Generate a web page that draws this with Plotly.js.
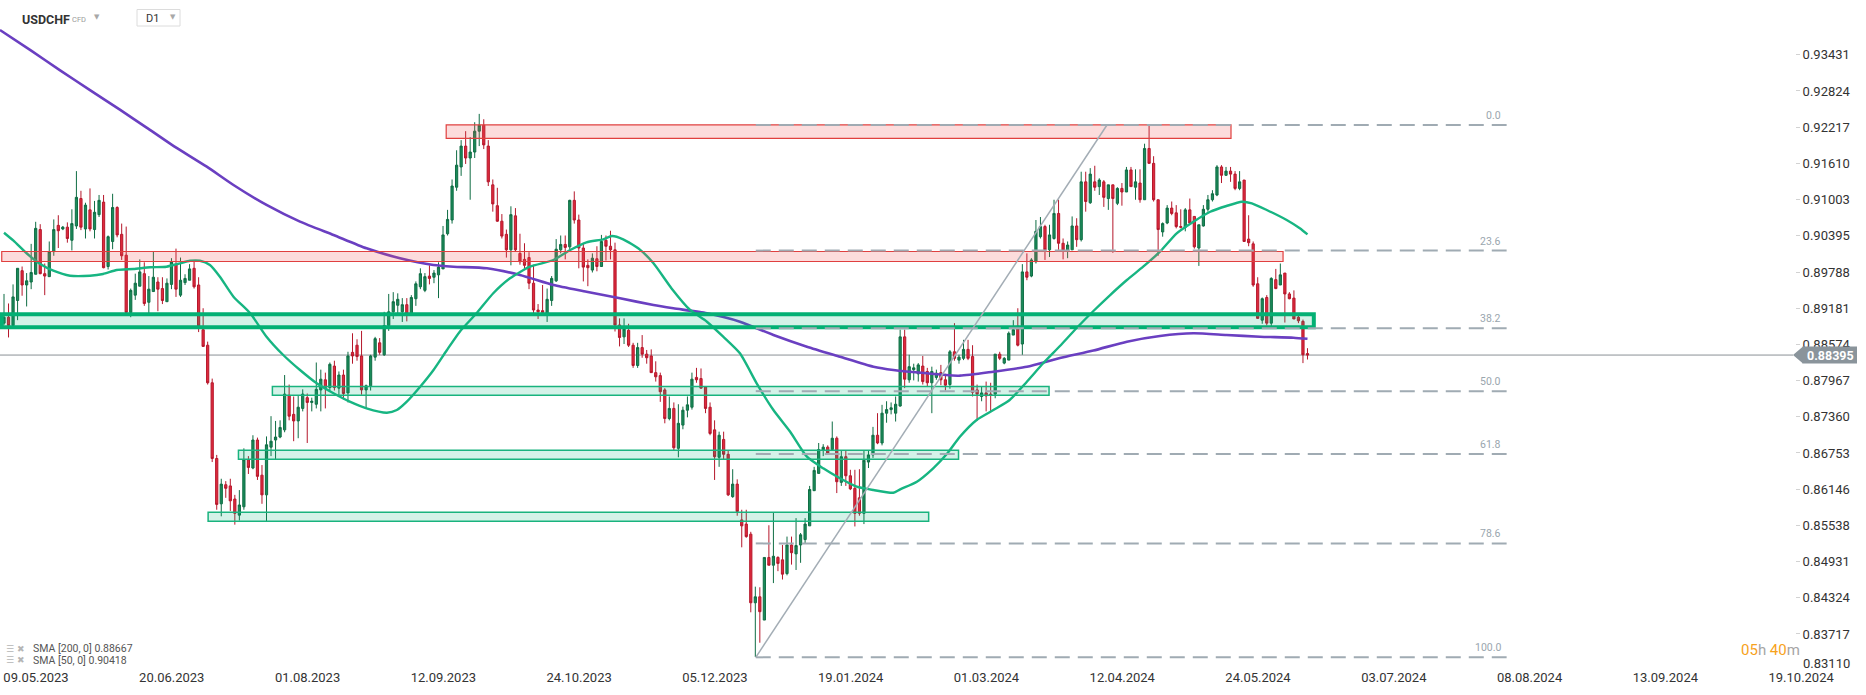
<!DOCTYPE html>
<html><head><meta charset="utf-8">
<script src="https://cdn.plot.ly/plotly-3.0.1.min.js"></script>
<style>html,body{margin:0;padding:0;background:#fff;overflow:hidden}#chart{width:1866px;height:695px}</style>
</head><body><div id="chart"></div>
<script>
// ---------- DATA (USDCHF, D1) ----------
const dateLabels = ['09.05.2023','20.06.2023','01.08.2023','12.09.2023','24.10.2023','05.12.2023','19.01.2024','01.03.2024','12.04.2024','24.05.2024','03.07.2024','08.08.2024','13.09.2024','19.10.2024'];
const dateLabelBars = [0,30,60,90,120,150,180,210,240,270,300,330,360,390];

const openP = [
.8893,.8903,.8889,.8931,.8981,.8957,.8962,.8975,.9050,.8976,
.8971,.9013,.9057,.9051,.9054,.9032,.9056,.9102,.9051,.9083,
.9050,.9075,.9096,.8988,.9030,.9087,.9042,.9007,.8911,.8940,
.8955,.8976,.8928,.8946,.8962,.8951,.8929,.8958,.8991,.8940,
.8961,.8965,.8985,.8957,.8882,.8856,.8793,.8666,.8590,.8622,
.8620,.8598,.8571,.8585,.8664,.8650,.8697,.8638,.8605,.8685,
.8697,.8702,.8714,.8772,.8740,.8729,.8750,.8768,.8760,.8757,
.8781,.8798,.8785,.8821,.8784,.8806,.8776,.8844,.8856,.8838,
.8781,.8788,.8836,.8860,.8840,.8889,.8912,.8923,.8912,.8924,
.8909,.8934,.8954,.8948,.8972,.8970,.8974,.8984,.9043,.9066,
.9121,.9155,.9190,.9170,.9180,.9215,.9225,.9190,.9125,.9090,
.9064,.9042,.9016,.9073,.9010,.9000,.9003,.8960,.8915,.8914,
.8909,.8931,.8964,.9016,.9025,.9021,.9099,.9066,.9019,.8990,
.8982,.9001,.8988,.9032,.9022,.9016,.8890,.8870,.8881,.8856,
.8822,.8852,.8841,.8838,.8810,.8805,.8781,.8733,.8750,.8683,
.8722,.8747,.8752,.8802,.8800,.8786,.8752,.8714,.8668,.8698,
.8673,.8602,.8623,.8563,.8556,.8539,.8424,.8434,.8395,.8500,
.8487,.8500,.8496,.8473,.8521,.8506,.8521,.8530,.8553,.8612,
.8641,.8680,.8685,.8681,.8700,.8626,.8669,.8637,.8616,.8600,
.8574,.8660,.8672,.8705,.8692,.8742,.8748,.8742,.8754,.8870,
.8798,.8815,.8808,.8821,.8812,.8793,.8802,.8810,.8798,.8790,
.8845,.8831,.8834,.8849,.8837,.8781,.8770,.8776,.8774,.8774,
.8841,.8826,.8831,.8873,.8888,.8858,.8979,.8972,.8996,.9038,
.9055,.9016,.9035,.9077,.9027,.9014,.9016,.9056,.9033,.9130,
.9095,.9130,.9122,.9130,.9102,.9125,.9094,.9119,.9113,.9150,
.9121,.9128,.9100,.9186,.9161,.9100,.9046,.9061,.9086,.9078,
.9055,.9054,.9083,.9072,.9019,.9056,.9084,.9100,.9108,.9155,
.9141,.9148,.9143,.9119,.9133,.9034,.9026,.8959,.8898,.8936,
.8893,.8966,.8957,.8977,.8942,.8935,.8903,.8896,.8842];

const highP = [
.8942,.8926,.8958,.8985,.8988,.8977,.9026,.9063,.9059,.8993,
.9030,.9067,.9074,.9056,.9062,.9084,.9148,.9115,.9095,.9119,
.9098,.9108,.9108,.9040,.9110,.9089,.9060,.9055,.8951,.8976,
.9000,.8995,.8972,.9013,.8970,.8970,.8968,.9002,.9018,.9003,
.8975,.8992,.8996,.8970,.8918,.8862,.8800,.8672,.8632,.8628,
.8632,.8605,.8613,.8683,.8670,.8705,.8701,.8655,.8703,.8737,
.8729,.8730,.8806,.8790,.8770,.8772,.8782,.8775,.8768,.8827,
.8815,.8810,.8827,.8830,.8812,.8815,.8845,.8876,.8866,.8880,
.8790,.8840,.8870,.8868,.8912,.8942,.8945,.8943,.8935,.8935,
.8940,.8963,.8985,.8977,.8990,.8982,.8995,.9056,.9083,.9134,
.9183,.9200,.9215,.9205,.9230,.9244,.9235,.9200,.9134,.9120,
.9076,.9050,.9089,.9086,.9043,.9027,.9012,.8991,.8925,.8957,
.8951,.8972,.9034,.9040,.9040,.9100,.9114,.9075,.9027,.9000,
.9010,.9022,.9041,.9040,.9048,.9028,.8901,.8901,.8892,.8860,
.8860,.8873,.8848,.8849,.8829,.8810,.8784,.8770,.8760,.8757,
.8753,.8770,.8810,.8818,.8817,.8787,.8760,.8730,.8711,.8711,
.8680,.8648,.8631,.8580,.8580,.8543,.8451,.8450,.8500,.8554,
.8575,.8502,.8521,.8535,.8535,.8566,.8541,.8566,.8620,.8652,
.8692,.8690,.8688,.8728,.8703,.8680,.8680,.8647,.8647,.8648,
.8680,.8680,.8719,.8742,.8756,.8762,.8760,.8770,.8882,.8882,
.8840,.8825,.8826,.8838,.8818,.8820,.8815,.8823,.8808,.8848,
.8893,.8840,.8865,.8865,.8856,.8790,.8787,.8795,.8793,.8841,
.8845,.8836,.8879,.8898,.8918,.8992,.9010,.9002,.9066,.9071,
.9058,.9058,.9100,.9100,.9035,.9030,.9072,.9069,.9147,.9147,
.9153,.9157,.9136,.9133,.9125,.9125,.9121,.9128,.9155,.9155,
.9151,.9151,.9194,.9226,.9173,.9100,.9062,.9091,.9097,.9091,
.9084,.9086,.9102,.9072,.9058,.9091,.9108,.9116,.9158,.9158,
.9155,.9155,.9148,.9148,.9133,.9074,.9030,.8970,.8936,.8940,
.8970,.8984,.8993,.8977,.8945,.8948,.8910,.8899,.8851];

const lowP = [
.8890,.8869,.8886,.8898,.8939,.8921,.8950,.8975,.8975,.8940,
.8971,.9006,.9019,.9049,.9028,.9015,.9051,.9049,.9035,.9047,
.9035,.9071,.8985,.8983,.9017,.9037,.8999,.8910,.8903,.8932,
.8955,.8922,.8910,.8946,.8913,.8925,.8929,.8950,.8937,.8937,
.8957,.8965,.8951,.8878,.8853,.8790,.8660,.8580,.8569,.8600,
.8578,.8555,.8562,.8580,.8640,.8648,.8630,.8590,.8560,.8670,
.8665,.8700,.8710,.8730,.8695,.8700,.8745,.8692,.8745,.8750,
.8745,.8750,.8780,.8780,.8770,.8765,.8760,.8825,.8830,.8773,
.8750,.8780,.8830,.8840,.8838,.8880,.8900,.8905,.8895,.8896,
.8905,.8922,.8950,.8945,.8958,.8960,.8935,.8984,.9040,.9060,
.9115,.9140,.9160,.9100,.9170,.9190,.9185,.9123,.9080,.9063,
.9035,.9003,.8990,.9013,.8991,.8985,.8950,.8905,.8900,.8905,
.8895,.8922,.8962,.9010,.9000,.9016,.9060,.8985,.8963,.8955,
.8978,.8980,.8988,.8998,.9000,.8879,.8854,.8858,.8853,.8818,
.8818,.8835,.8825,.8810,.8795,.8761,.8725,.8730,.8680,.8668,
.8715,.8735,.8748,.8793,.8783,.8742,.8705,.8630,.8652,.8665,
.8603,.8600,.8570,.8517,.8533,.8408,.8333,.8357,.8395,.8487,
.8457,.8477,.8463,.8470,.8488,.8479,.8491,.8524,.8553,.8612,
.8641,.8670,.8672,.8681,.8608,.8620,.8620,.8613,.8552,.8570,
.8556,.8650,.8667,.8690,.8688,.8726,.8740,.8728,.8753,.8784,
.8793,.8797,.8795,.8790,.8786,.8742,.8798,.8789,.8780,.8783,
.8830,.8825,.8831,.8831,.8770,.8729,.8762,.8745,.8745,.8767,
.8831,.8824,.8831,.8873,.8854,.8840,.8965,.8970,.8993,.9035,
.8999,.9004,.9033,.9016,.9000,.9002,.9016,.9021,.9030,.9080,
.9093,.9115,.9108,.9088,.9083,.9011,.9091,.9090,.9113,.9122,
.9100,.9095,.9100,.9161,.9097,.9006,.9038,.9059,.9074,.9052,
.9052,.9047,.9060,.9018,.8989,.9055,.9080,.9097,.9106,.9128,
.9140,.9130,.9116,.9116,.9030,.9022,.8954,.8901,.8892,.8889,
.8887,.8950,.8957,.8894,.8933,.8900,.8893,.8826,.8832];

const closeP = [
.8903,.8889,.8937,.8985,.8957,.8964,.8978,.9052,.8976,.8972,
.9013,.9050,.9048,.9054,.9035,.9060,.9104,.9054,.9091,.9051,
.9079,.9099,.8986,.9038,.9087,.9041,.9006,.8911,.8948,.8960,
.8979,.8926,.8950,.8970,.8950,.8931,.8960,.8996,.8950,.8965,
.8968,.8984,.8954,.8888,.8854,.8793,.8666,.8589,.8623,.8616,
.8595,.8574,.8588,.8664,.8651,.8697,.8636,.8605,.8689,.8695,
.8702,.8718,.8774,.8737,.8729,.8752,.8774,.8760,.8762,.8782,
.8799,.8785,.8824,.8785,.8806,.8775,.8838,.8838,.8837,.8781,
.8788,.8838,.8867,.8844,.8889,.8912,.8929,.8933,.8924,.8909,
.8936,.8959,.8976,.8971,.8968,.8977,.8987,.9041,.9067,.9123,
.9158,.9190,.9170,.9180,.9215,.9225,.9192,.9130,.9093,.9064,
.9039,.9016,.9075,.9016,.8996,.8990,.8960,.8915,.8912,.8911,
.8933,.8968,.9017,.9025,.9020,.9099,.9066,.9019,.8987,.8986,
.9002,.8988,.9030,.9022,.9016,.8890,.8869,.8883,.8856,.8822,
.8852,.8841,.8835,.8810,.8803,.8778,.8733,.8750,.8684,.8725,
.8747,.8756,.8799,.8798,.8784,.8750,.8708,.8669,.8705,.8673,
.8605,.8623,.8577,.8553,.8535,.8424,.8434,.8409,.8500,.8487,
.8502,.8490,.8472,.8521,.8508,.8520,.8538,.8556,.8614,.8646,
.8681,.8685,.8675,.8700,.8627,.8669,.8637,.8615,.8574,.8574,
.8663,.8672,.8705,.8692,.8742,.8748,.8751,.8757,.8870,.8799,
.8820,.8818,.8823,.8795,.8793,.8812,.8809,.8798,.8789,.8845,
.8834,.8836,.8849,.8834,.8777,.8774,.8776,.8771,.8772,.8841,
.8834,.8834,.8876,.8882,.8856,.8979,.8970,.8999,.9047,.9055,
.9016,.9041,.9077,.9027,.9015,.9024,.9056,.9033,.9130,.9097,
.9143,.9121,.9133,.9104,.9125,.9102,.9119,.9113,.9150,.9122,
.9130,.9100,.9186,.9161,.9100,.9050,.9060,.9086,.9077,.9055,
.9054,.9083,.9061,.9021,.9058,.9084,.9100,.9110,.9155,.9141,
.9148,.9143,.9119,.9130,.9030,.9028,.8957,.8901,.8934,.8893,
.8968,.8951,.8974,.8942,.8934,.8900,.8897,.8840,.88395];

// SMA 200 (bar position, value)
const sma200Bar = [-0.9,6.0,12.4,19.0,25.6,31.5,37.1,44.8,50.7,58.0,65.4,72.8,80.1,87.5,94.9,99.3,106.7,114.0,121.4,128.7,136.1,143.5,147.9,155.3,162.6,170.0,177.4,184.7,192.1,196.5,203.9,211.2,218.6,226.0,233.3,240.7,248.1,255.4,262.8,270.1,277.5,284.9,288];
const sma200Val = [.93847,.93500,.93170,.92840,.92510,.92210,.91920,.91554,.91247,.90912,.90632,.90409,.90185,.90018,.89905,.89877,.89850,.89738,.89570,.89458,.89347,.89234,.89179,.89095,.88954,.88731,.88535,.88367,.88199,.88144,.88089,.88049,.88116,.88199,.88346,.88471,.88619,.88714,.88760,.88731,.88703,.88686,.88667];
// SMA 50
const sma50Bar = [0,2.1,5.0,8.0,10.9,14.6,19.0,21.9,24.9,28.6,32.3,35.9,38.9,41.1,43.3,45.5,47.7,50.7,54.4,58.0,61.7,65.4,69.1,72.8,76.4,80.1,84.6,86.8,89.0,91.9,94.9,97.8,100.7,104.4,108.1,111.8,116.2,121.4,125.1,128.7,132.4,134.3,136.8,140.5,143.5,147.5,151.6,155.3,158.9,162.6,166.3,170.0,173.7,177.4,181.0,184.7,188.4,192.1,196.5,198.0,201.7,205.3,208.3,211.2,214.9,218.6,222.2,226.0,229.6,233.3,237.0,240.7,244.4,248.1,251.7,255.4,259.1,262.8,266.5,270.1,273.5,275.7,279.0,283.4,286.3,288];
const sma50Val = [.90447,.90313,.90102,.89922,.89810,.89726,.89726,.89754,.89821,.89838,.89867,.89877,.89934,.89977,.89977,.89905,.89709,.89374,.89095,.88703,.88396,.88144,.87921,.87753,.87613,.87502,.87428,.87473,.87613,.87859,.88144,.88471,.88787,.89095,.89431,.89682,.89877,.89989,.90157,.90286,.90336,.90392,.90336,.90164,.89934,.89513,.89151,.88954,.88703,.88424,.87921,.87473,.87109,.86690,.86495,.86328,.86187,.86131,.86086,.86143,.86271,.86495,.86735,.87025,.87306,.87473,.87641,.87948,.88257,.88547,.88849,.89134,.89402,.89654,.89877,.90128,.90437,.90632,.90799,.90895,.90967,.90940,.90828,.90660,.90521,.90418];

// Resistance / support zones: [startBar, endBar, lowPrice, highPrice]
const redZones = [[97.7,271.1,0.92030,0.92254],[-0.5,282.6,0.89964,0.90132]];
const greenZones = [[59.3,230.9,0.87720,0.87868],[51.8,210.9,0.86646,0.86797],[45.1,204.3,0.85607,0.85757]];
const keyZone = [-0.5,289.4,0.88860,0.89078];

// Fibonacci retracement
const fibLevels = [0,23.6,38.2,50,61.8,78.6,100];
const fibHigh = 0.92254, fibLow = 0.83325;
const fibStartBar = 166.1, fibEndBar = 332.0, fibHighBar = 243.7;

const yTicks = [0.93431,0.92824,0.92217,0.91610,0.91003,0.90395,0.89788,0.89181,0.88574,0.87967,0.87360,0.86753,0.86146,0.85538,0.84931,0.84324,0.83717,0.83110];
const lastPrice = 0.88395;
const sma200Last = 0.88667, sma50Last = 0.90418;

// ---------- CHART ----------
const W = 1866, H = 695, B = 22;
const plotH = H - B;
const pxPerUnit = 5962;           // vertical scale
const bars = openP.map((_, i) => i);
const halfTag = 8.5 / pxPerUnit;
const px = v => v / W;            // pixel -> paper x
const py = v => (plotH - v) / plotH; // pixel -> paper y

const traces = [
  {type:'candlestick', x:bars, open:openP, high:highP, low:lowP, close:closeP,
   increasing:{line:{color:'#0f6d44', width:1}, fillcolor:'#1b8b5a'},
   decreasing:{line:{color:'#b5172b', width:1}, fillcolor:'#df2a3d'},
   whiskerwidth:0, hoverinfo:'skip'},
  {type:'scatter', mode:'lines', x:sma200Bar, y:sma200Val,
   line:{color:'#6a3fc1', width:2.6, shape:'spline', smoothing:0.6}, hoverinfo:'skip'},
  {type:'scatter', mode:'lines', x:sma50Bar, y:sma50Val,
   line:{color:'#17b582', width:2.4, shape:'spline', smoothing:0.6}, hoverinfo:'skip'}
];

const shapes = [];
shapes.push({type:'line', xref:'paper', yref:'y', x0:0, x1:px(1793), y0:lastPrice, y1:lastPrice,
  line:{color:'#8a9096', width:1}, layer:'below'});
redZones.forEach(z => shapes.push({type:'rect', xref:'x', yref:'y', x0:z[0], x1:z[1], y0:z[2], y1:z[3],
  fillcolor:'rgba(240,80,80,0.2)', line:{color:'#e0403f', width:1.2}, layer:'above'}));
greenZones.forEach(z => shapes.push({type:'rect', xref:'x', yref:'y', x0:z[0], x1:z[1], y0:z[2], y1:z[3],
  fillcolor:'rgba(0,180,120,0.17)', line:{color:'#19b37e', width:1.5}, layer:'above'}));
shapes.push({type:'rect', xref:'x', yref:'y', x0:keyZone[0], x1:keyZone[1], y0:keyZone[2], y1:keyZone[3],
  fillcolor:'rgba(0,180,120,0.17)', line:{color:'#03b074', width:4}, layer:'above'});
fibLevels.forEach(l => {
  const p = fibHigh - (fibHigh - fibLow) * l / 100;
  shapes.push({type:'line', xref:'x', yref:'y', x0:fibStartBar, x1:fibEndBar, y0:p, y1:p,
    line:{color:'#a0abb3', width:2, dash:'15px,8px'}, layer:'above'});
});
shapes.push({type:'line', xref:'x', yref:'y', x0:fibStartBar, x1:fibHighBar, y0:fibLow, y1:fibHigh,
  line:{color:'#a3adb5', width:1.5}, layer:'above'});
shapes.push({type:'path', xref:'paper', yref:'y',
  path:`M${px(1793)},${lastPrice} L${px(1803)},${lastPrice+halfTag} L${px(1803)},${lastPrice-halfTag} Z`,
  fillcolor:'#8a949b', line:{width:0}, layer:'above'});
shapes.push({type:'rect', xref:'paper', yref:'y', x0:px(1802.5), x1:px(1857), y0:lastPrice-halfTag, y1:lastPrice+halfTag,
  fillcolor:'#8a949b', line:{width:0}, layer:'above'});
shapes.push({type:'rect', xref:'paper', yref:'paper', x0:px(137), x1:px(180), y0:py(26), y1:py(9.5),
  fillcolor:'#ffffff', line:{color:'#dcdcdc', width:1}, layer:'above'});

const annotations = [];
const fibLabelBar = 331.2;
fibLevels.forEach(l => {
  const p = fibHigh - (fibHigh - fibLow) * l / 100;
  annotations.push({xref:'x', yref:'y', x:fibLabelBar, y:p, xanchor:'right', yanchor:'bottom', yshift:1,
    text:l.toFixed(1), showarrow:false, font:{family:'Roboto', size:10.5, color:'#9aa6ae'}});
});
annotations.push({xref:'paper', yref:'y', x:px(1830), y:lastPrice, xanchor:'center', yanchor:'middle',
  text:'<b>' + lastPrice.toFixed(5) + '</b>', showarrow:false, font:{family:'Roboto', size:12.5, color:'#ffffff'}});
// lowest axis label is lifted above the date row, as in the reference
const lowestTick = yTicks[yTicks.length - 1];
annotations.push({xref:'paper', yref:'paper', x:px(1801), y:py(663.5), xanchor:'left', yanchor:'middle',
  text:lowestTick.toFixed(5), showarrow:false, font:{family:'Roboto', size:13, color:'#333'}});
annotations.push({xref:'paper', yref:'paper', x:px(20), y:py(19.5), xanchor:'left', yanchor:'middle',
  text:'<b>USDCHF</b>', showarrow:false, font:{family:'Roboto', size:12.5, color:'#333'}});
annotations.push({xref:'paper', yref:'paper', x:px(69.5), y:py(19.5), xanchor:'left', yanchor:'middle',
  text:'CFD', showarrow:false, font:{family:'Roboto', size:7.5, color:'#9a9a9a'}});
annotations.push({xref:'paper', yref:'paper', x:px(96.5), y:py(17), xanchor:'center', yanchor:'middle',
  text:'▼', showarrow:false, font:{family:'DejaVu Sans', size:7, color:'#a8a8a8'}});
annotations.push({xref:'paper', yref:'paper', x:px(143.5), y:py(18), xanchor:'left', yanchor:'middle',
  text:'D1', showarrow:false, font:{family:'Roboto', size:11, color:'#333'}});
annotations.push({xref:'paper', yref:'paper', x:px(172.5), y:py(17), xanchor:'center', yanchor:'middle',
  text:'▼', showarrow:false, font:{family:'DejaVu Sans', size:7, color:'#a8a8a8'}});
[['SMA [200, 0] ' + sma200Last.toFixed(5), 648.5], ['SMA [50, 0] ' + sma50Last.toFixed(5), 660]].forEach(r => {
  annotations.push({xref:'paper', yref:'paper', x:px(4), y:py(r[1]), xanchor:'left', yanchor:'middle',
    text:'☰ ✖', showarrow:false, font:{family:'DejaVu Sans', size:9, color:'#b5b5b5'}});
  annotations.push({xref:'paper', yref:'paper', x:px(31), y:py(r[1]), xanchor:'left', yanchor:'middle',
    text:r[0], showarrow:false, font:{family:'Roboto', size:10.5, color:'#555'}});
});
annotations.push({xref:'paper', yref:'paper', x:px(1739), y:py(650), xanchor:'left', yanchor:'middle',
  text:'<span style="color:#f7a21b">05</span><span style="color:#a5a5a5">h </span><span style="color:#f7a21b">40</span><span style="color:#a5a5a5">m</span>',
  showarrow:false, font:{family:'Roboto', size:15, color:'#f7a21b'}});

const layout = {
  width:W, height:H, margin:{l:0, r:0, t:0, b:B, pad:0},
  paper_bgcolor:'#ffffff', plot_bgcolor:'#ffffff',
  showlegend:false, hovermode:false, dragmode:false,
  xaxis:{domain:[0,1], range:[-4/4.526, (W-4)/4.526], showgrid:false, zeroline:false, showline:false,
    tickmode:'array', tickvals:dateLabelBars, ticktext:dateLabels, ticks:'', ticklabelshift:32, ticklabelstandoff:-5,
    tickfont:{family:'Roboto', size:13, color:'#333'}, rangeslider:{visible:false}, fixedrange:true},
  yaxis:{range:[0.93431 - (plotH - 54.8)/pxPerUnit, 0.93431 + 54.8/pxPerUnit], anchor:'free', position:px(1795), side:'right',
    showgrid:false, zeroline:false, showline:false, tickmode:'array', tickvals:yTicks.slice(0, -1),
    ticktext:yTicks.slice(0, -1).map(v => v.toFixed(5)), ticks:'outside', ticklen:4, tickcolor:'#d2d2d2',
    tickfont:{family:'Roboto', size:13, color:'#333'}, fixedrange:true},
  shapes:shapes, annotations:annotations
};

Plotly.newPlot('chart', traces, layout, {staticPlot:true, displayModeBar:false});
</script>
</body></html>
